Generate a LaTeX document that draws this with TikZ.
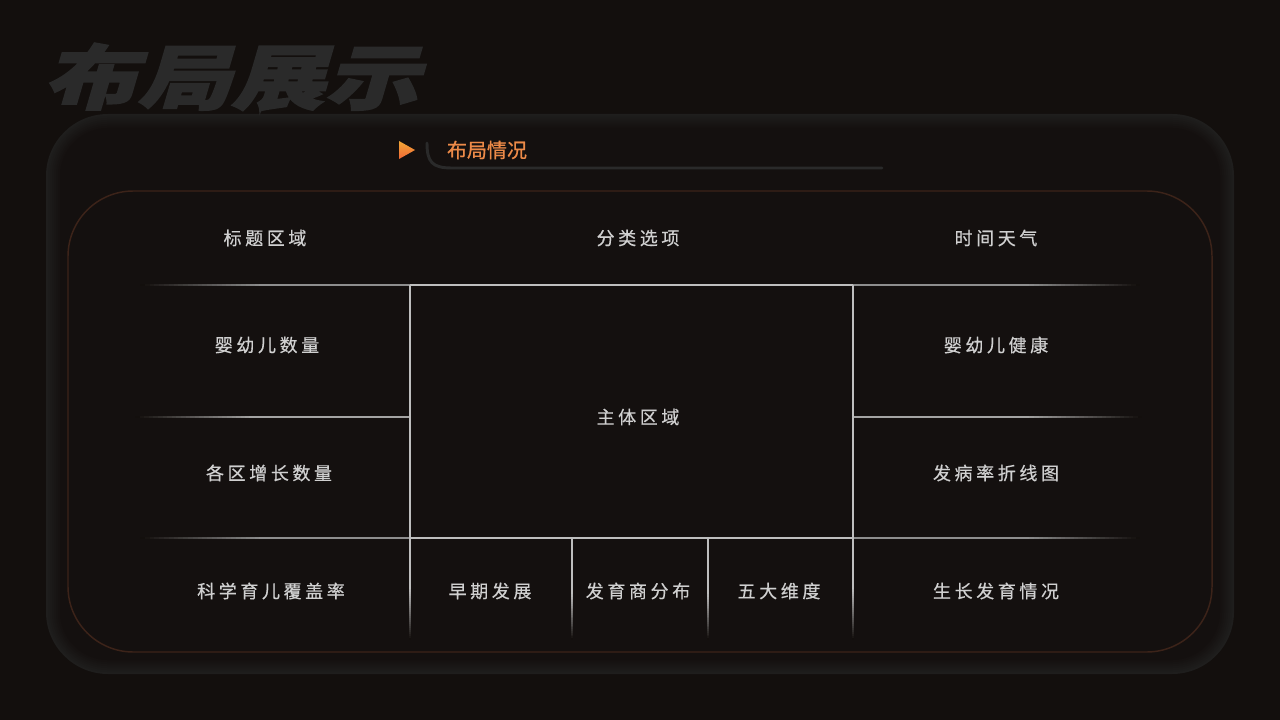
\documentclass[tikz,border=0pt]{standalone}
\usepackage{fontspec}
\newfontfamily\cjk[LetterSpace=20,FakeBold=0.5]{Noto Sans CJK SC}
\newfontfamily\headfont[FakeBold=0.8]{Noto Sans CJK SC}
\newfontfamily\titlefont[FakeSlant=0.22,BoldFeatures={FakeBold=2}]{Noto Sans CJK SC}

\definecolor{bgc}{HTML}{130F0D}
\definecolor{panelc}{HTML}{1F1E1D}
\definecolor{framec}{HTML}{3C2319}
\definecolor{gridc}{HTML}{BEBEBE}
\definecolor{sidec}{HTML}{8E8E8E}
\definecolor{textc}{HTML}{D0D0D0}
\definecolor{titlec}{HTML}{2A2A2A}
\definecolor{orangec}{HTML}{EC8A48}
\definecolor{curvec}{HTML}{2A2A2A}

% rule that fades from the background (dark end) to a colour (full end)
\newcommand\fadeh[4]{% x dark, x full, y, colour
  \foreach \k in {0,...,24} {
    \pgfmathtruncatemacro\cmix{\k*4}
    \pgfmathsetmacro\xa{#1+(#2-#1)*\k/25}
    \pgfmathsetmacro\xb{#1+(#2-#1)*(\k+1.3)/25}
    \fill[#4!\cmix!bgc] (\xa,{#3-1}) rectangle (\xb,{#3+1});
  }}
\newcommand\fadev[4]{% x, y dark, y full, colour
  \foreach \k in {0,...,24} {
    \pgfmathtruncatemacro\cmix{\k*4}
    \pgfmathsetmacro\ya{#2+(#3-#2)*\k/25}
    \pgfmathsetmacro\yb{#2+(#3-#2)*(\k+1.3)/25}
    \fill[#4!\cmix!bgc] ({#1-1},\ya) rectangle ({#1+1},\yb);
  }}

\tikzset{
  label/.style={textc, font=\cjk\fontsize{13.5}{13.5}\selectfont, inner sep=0pt},
}

\begin{document}
\begin{tikzpicture}[x=0.75pt, y=-0.75pt]  % one unit = one pixel

% page
\fill[bgc] (0,0) rectangle (1280,720);
\useasboundingbox (0,0) rectangle (1280,720);

% outer panel with a soft rim
\foreach \i in {0,...,7} {
    \pgfmathsetmacro\rr{(62-2*\i)*0.75}
    \pgfmathtruncatemacro\mix{100-\i*13}
    \fill[panelc!\mix!bgc, rounded corners=\rr pt] ({46+2*\i},{114+2*\i}) rectangle ({1234-2*\i},{674-2*\i});
}

% inner frame
\draw[framec, line width=1.1pt, rounded corners=49pt] (68,191) rectangle (1212,652);

% big title
\node[titlec, xscale=1.33, inner sep=0pt, font=\titlefont\bfseries\fontsize{53}{53}\selectfont] (title) at (231,77) {布局展示};

% header
\shade[top color=orangec!75!yellow, bottom color=orangec!75!red] (399,141) -- (415,150) -- (399,159) -- cycle;
\node[orangec, inner sep=0pt, font=\headfont\fontsize{15}{15}\selectfont] (head) at (487,150) {布局情况};
\coordinate (curveA) at (427,143);
\coordinate (curveB) at (882,168);
\draw[curvec, line width=2.2pt, line cap=round] (curveA) .. controls (427,162) and (432,168) .. (452,168) -- (curveB);

% horizontal rules: fading ends and solid middle
\foreach \y in {285,538} {
    \fadeh{140}{260}{\y}{sidec}
    \fill[sidec] (259,{\y-1}) rectangle (410,{\y+1});
    \fill[gridc] (410,{\y-1}) rectangle (853,{\y+1});
    \fill[sidec] (853,{\y-1}) rectangle (1031,{\y+1});
    \fadeh{1140}{1030}{\y}{sidec}
}
% middle rules
\fadeh{135}{250}{417}{gridc!85!bgc}
\fill[gridc!85!bgc] (249,416) rectangle (410,418);
\fill[gridc!85!bgc] (853,416) rectangle (1031,418);
\fadeh{1142}{1030}{417}{gridc!85!bgc}

% vertical rules
\foreach \x in {410,853} {
    \fill[gridc] ({\x-1},285) rectangle ({\x+1},591);
    \fadev{\x}{640}{590}{gridc}
}
\foreach \x in {572,708} {
    \fill[gridc] ({\x-1},538) rectangle ({\x+1},596);
    \fadev{\x}{640}{595}{gridc}
}

% area labels
\foreach \x/\y/\n/\t in {
    265/238/titlearea/标题区域,
    638/238/tabs/分类选项,
    996/238/weather/时间天气,
    267/345/infants/婴幼儿数量,
    996/345/health/婴幼儿健康,
    638/417/main/主体区域,
    269/473/growth/各区增长数量,
    996/473/incidence/发病率折线图,
    271/591/coverage/科学育儿覆盖率,
    490/591/early/早期发展,
    638/591/dq/发育商分布,
    779/591/dims/五大维度,
    996/591/develop/生长发育情况} {
    \node[label] (\n) at (\x,\y) {\t};
}

\end{tikzpicture}
\end{document}
